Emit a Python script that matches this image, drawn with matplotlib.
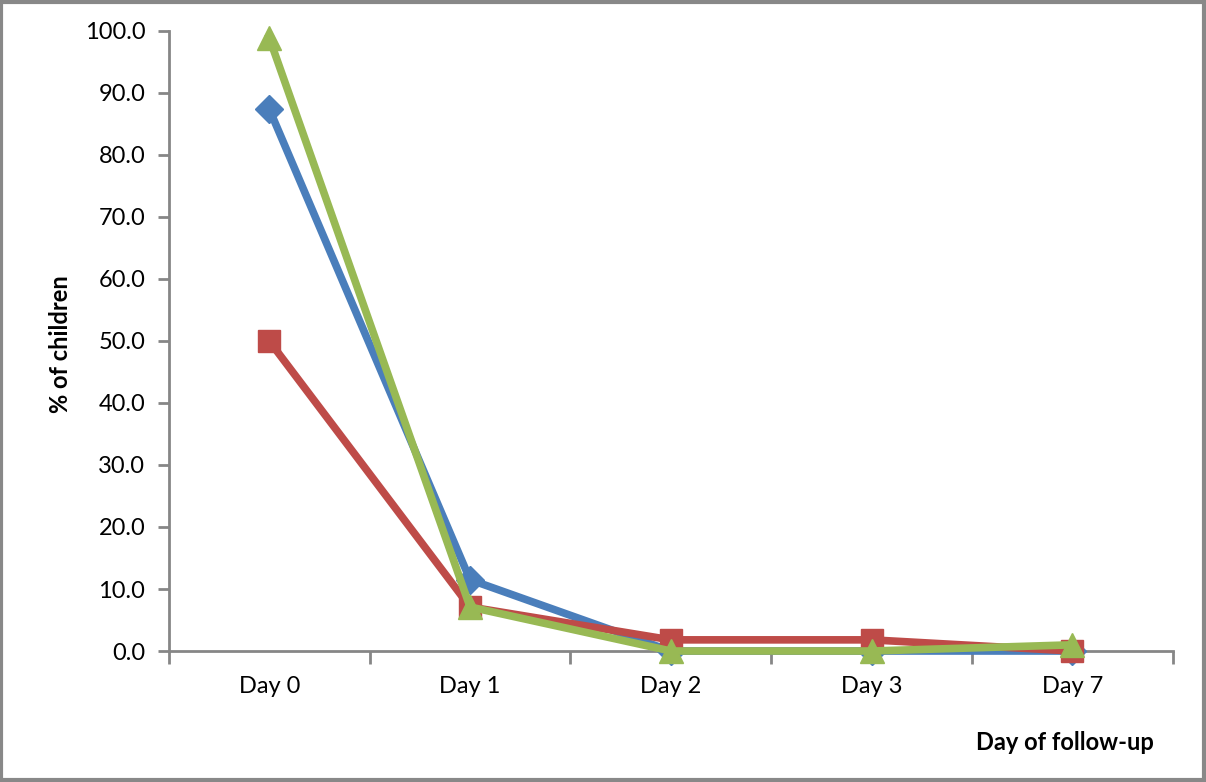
import matplotlib
matplotlib.use("Agg")
import matplotlib.pyplot as plt
from matplotlib.patches import Rectangle
import numpy as np

days = ["Day 0", "Day 1", "Day 2", "Day 3", "Day 7"]
series_blue = [87.4, 11.5, 0.0, 0.0, 0.0]
series_red = [50.0, 7.1, 1.8, 1.8, 0.0]
series_green = [98.9, 7.1, 0.0, 0.0, 1.0]
yticks = [0, 10, 20, 30, 40, 50, 60, 70, 80, 90, 100]

plt.rcParams['font.family'] = ['Lato', 'DejaVu Sans']

fig = plt.figure(figsize=(12.06, 7.82), dpi=100)
ax = fig.add_axes([0.140, 0.1675, 0.8325, 0.793])

x = np.arange(len(days))
ax.plot(x, series_blue, color="#4A7EBB", lw=5.5, marker="D", ms=14, zorder=3, clip_on=False)
ax.plot(x, series_red, color="#BE4B48", lw=5.5, marker="s", ms=16, zorder=4, clip_on=False)
ax.plot(x, series_green, color="#98B954", lw=5.5, marker="^", ms=17, zorder=5, clip_on=False)

ax.set_xlim(-0.5, len(days) - 0.5)
ax.set_ylim(0, 100)
ax.set_yticks(yticks)
ax.set_yticklabels([f"{v:.1f}" for v in yticks], fontsize=17)
ax.set_xticks(x)
ax.set_xticklabels(days, fontsize=17)
ax.set_xticks(np.arange(-0.5, len(days), 1.0), minor=True)
ax.tick_params(axis='x', which='major', length=0, pad=18)
ax.tick_params(axis='x', which='minor', length=9, width=2, color="#868686", direction='out')
ax.tick_params(axis='y', length=8, width=2, color="#868686", direction='out', pad=9)

for s in ["top", "right"]:
    ax.spines[s].set_visible(False)
for s in ["left", "bottom"]:
    ax.spines[s].set_color("#868686")
    ax.spines[s].set_linewidth(2)
ax.spines["bottom"].set_zorder(2)

fig.text(0.050, 0.56, "% of children", rotation=90, fontsize=17, fontweight="bold",
         ha="center", va="center")
fig.text(0.883, 0.050, "Day of follow-up", fontsize=17, fontweight="bold",
         ha="center", va="center")

fig.patches.append(Rectangle((0.001, 0.002), 0.997, 0.996, transform=fig.transFigure,
                             fill=False, edgecolor="#888888", lw=3))

fig.savefig("out.png", dpi=100)
